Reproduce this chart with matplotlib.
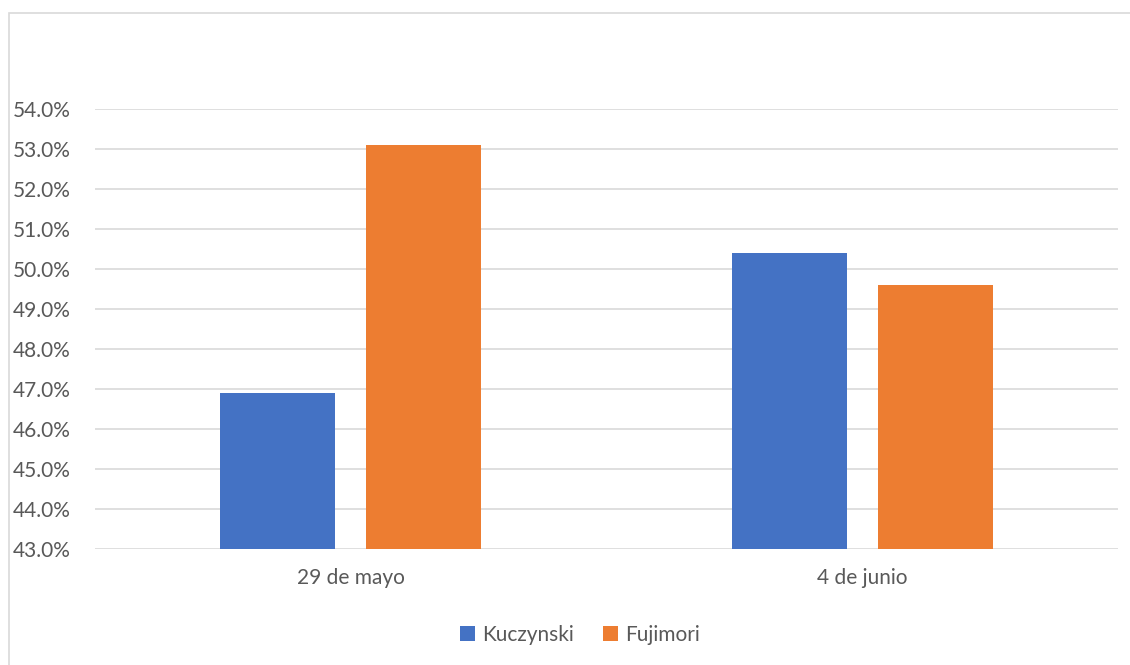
import matplotlib.pyplot as plt
import matplotlib.transforms as mtransforms
from matplotlib.patches import Rectangle
import numpy as np

categories = ['29 de mayo', '4 de junio']
kuczynski = [46.9, 50.4]
fujimori = [53.1, 49.6]
series_names = ['Kuczynski', 'Fujimori']
colors = ['#4472C4', '#ED7D31']
yticks = [43, 44, 45, 46, 47, 48, 49, 50, 51, 52, 53, 54]

plt.rcParams['font.family'] = ['Lato', 'DejaVu Sans']

fig = plt.figure(figsize=(11.3, 6.65), dpi=100)
ax = fig.add_axes([95/1130, 1-549/665, (1118-95)/1130, (549-109)/665])

x = np.arange(len(categories))
w = 0.225
off = 0.1427
ax.bar(x - off, kuczynski, w, color=colors[0], label=series_names[0], zorder=3)
ax.bar(x + off, fujimori, w, color=colors[1], label=series_names[1], zorder=3)

ax.set_xlim(-0.5, 1.5)
ax.set_ylim(43, 54)
ax.set_yticks(yticks)
ax.set_yticklabels([f'{v:.1f}%' for v in yticks])
ax.set_xticks(x)
ax.set_xticklabels(categories)
ax.grid(axis='y', color='#d9d9d9', linewidth=1.2, zorder=0)
for s in ax.spines.values():
    s.set_visible(False)
ax.tick_params(axis='both', length=0, labelsize=15, colors='#595959')
ax.tick_params(axis='x', pad=14)
ax.tick_params(axis='y', pad=0)

# left-align y labels near the frame edge
shift = mtransforms.ScaledTranslation(-82/100, 0, fig.dpi_scale_trans)
for lbl in ax.get_yticklabels():
    lbl.set_horizontalalignment('left')
    lbl.set_transform(lbl.get_transform() + shift)

fig.legend(loc='center', bbox_to_anchor=(580/1130, 1-635/665), ncol=2, frameon=False,
           fontsize=15, handlelength=0.7, handleheight=0.7, handletextpad=0.35,
           columnspacing=1.4, labelcolor='#595959')

fig.patches.append(Rectangle((9/1130, -0.05), 1.1, 1.05 - 13/665, transform=fig.transFigure,
                             fill=False, edgecolor='#d9d9d9', linewidth=1.2))

fig.savefig('out.png', dpi=100)
